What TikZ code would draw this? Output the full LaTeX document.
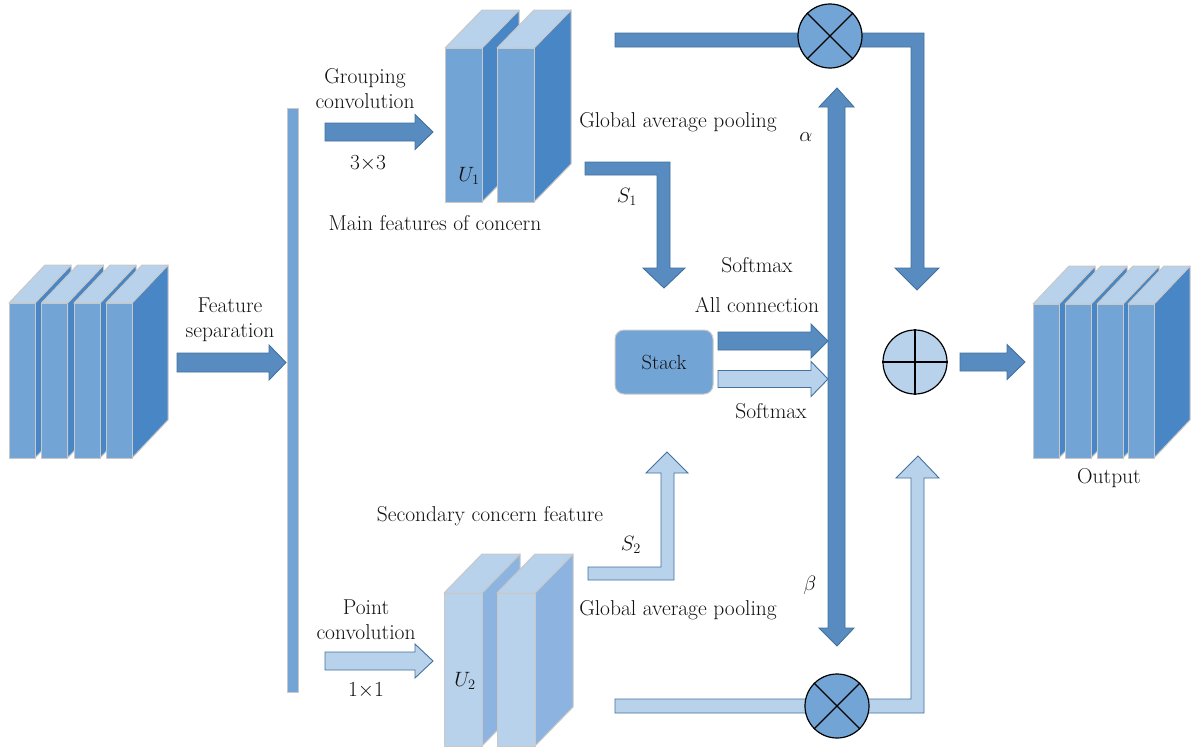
\documentclass[tikz,border=0pt]{standalone}
\usepackage{amsmath}
\usepackage{fontspec}
\setmainfont{Latin Modern Roman}
\definecolor{facemid}{HTML}{72A5D6}
\definecolor{facelight}{HTML}{B8D2EC}
\definecolor{facedark}{HTML}{4886C5}
\definecolor{facesoft}{HTML}{8DB4E0}
\definecolor{edgegray}{HTML}{C8C8C8}
\definecolor{arrdark}{HTML}{588CC0}
\definecolor{arrlight}{HTML}{B8D2EC}
\definecolor{arrline}{HTML}{41719C}
\definecolor{txt}{HTML}{111111}

\tikzset{
  darkarrow/.style={fill=arrdark, draw=arrline, line width=0.9pt, line join=miter},
  lightarrow/.style={fill=arrlight, draw=arrline, line width=0.9pt, line join=miter},
  face/.style={draw=edgegray, line width=1pt, line join=round},
  lbl/.style={text=txt, inner sep=0pt, font=\fontsize{21.5}{25}\selectfont, align=center},
  opnode/.style={circle, draw=black, line width=1.2pt, minimum size=64pt, inner sep=0pt},
}

% one slab: x, top y, width, height, depth dx, depth dy, front, top, side colours
\newcommand{\slabdraw}[9]{%
  \path[face, fill=#9] ({#1+#3},#2) -- ({#1+#3+#5},{#2-#6}) -- ({#1+#3+#5},{#2+#4-#6}) -- ({#1+#3},{#2+#4}) -- cycle;
  \path[face, fill=#8] (#1,#2) -- ({#1+#5},{#2-#6}) -- ({#1+#3+#5},{#2-#6}) -- ({#1+#3},#2) -- cycle;
  \path[face, fill=#7] (#1,#2) rectangle ({#1+#3},{#2+#4});
}
% straight block arrow pointing right: style, x start, x head, x tip, y centre, half shaft, half head
\newcommand{\rightblock}[7]{%
  \path[#1] (#2,{#5-#6}) -- (#3,{#5-#6}) -- (#3,{#5-#7}) -- (#4,#5) -- (#3,{#5+#7}) -- (#3,{#5+#6}) -- (#2,{#5+#6}) -- cycle;
}

\begin{document}
\begin{tikzpicture}[x=1pt, y=-1pt]
\useasboundingbox (0,0) rectangle (1195,750);

% input feature stack
\foreach \xx in {9,41.5,74,106}{\slabdraw{\xx}{303}{26}{155}{36}{38}{facemid}{facelight}{facedark}}
% output feature stack
\foreach \xx in {1033,1065,1097,1128}{\slabdraw{\xx}{304}{26}{154}{36}{38}{facemid}{facelight}{facedark}}
% U1 block
\foreach \xx in {445,497}{\slabdraw{\xx}{48}{37}{154}{37}{38}{facemid}{facelight}{facedark}}
% U2 block
\foreach \xx in {444,497}{\slabdraw{\xx}{593}{38}{153}{38}{39}{facelight}{facelight}{facesoft}}

% separation bar
\path[face, fill=facemid] (287,108) rectangle (298,692);

% straight arrows
\rightblock{darkarrow}{177}{269}{286}{362.5}{9.5}{17.5}
\rightblock{darkarrow}{325}{415}{433}{132}{9}{17.5}
\rightblock{lightarrow}{325}{415}{433}{661}{9}{17}
\rightblock{darkarrow}{718}{811}{828}{341}{9}{17}
\rightblock{lightarrow}{718}{811}{828}{379}{8.5}{17.5}
\rightblock{darkarrow}{960}{1007}{1025}{362}{9}{17.5}

% bent arrows
\path[darkarrow] (615,33) -- (924,33) -- (924,268) -- (939,268) -- (917,290) -- (895,268) -- (911,268) -- (911,47) -- (615,47) -- cycle;
\path[darkarrow] (585,162) -- (670,162) -- (670,268) -- (685,268) -- (664,288) -- (643,268) -- (657,268) -- (657,175) -- (585,175) -- cycle;
\path[lightarrow] (588,567) -- (661,567) -- (661,473) -- (646,473) -- (667,452) -- (688,473) -- (674,473) -- (674,580) -- (588,580) -- cycle;
\path[lightarrow] (615,699) -- (911,699) -- (911,478) -- (896,478) -- (918,456) -- (939,478) -- (924,478) -- (924,713) -- (615,713) -- cycle;

% alpha / beta double arrow
\path[darkarrow] (828,107) -- (819,107) -- (837,88) -- (854,107) -- (845,107) -- (845,628) -- (854,628) -- (837,646) -- (819,628) -- (828,628) -- cycle;

% stack box
\node[draw=edgegray, line width=1pt, fill=facemid, rounded corners=9pt, minimum width=98pt, minimum height=64pt, inner sep=0pt, text=txt, font=\fontsize{20.5}{22}\selectfont] (stack) at (664,362) {Stack};

% operators
\node[opnode, fill=facemid] (mulA) at (830,36) {};
\draw[line width=1.2pt] (mulA.north west) -- (mulA.south east) (mulA.north east) -- (mulA.south west);
\node[opnode, fill=facemid] (mulB) at (837,706) {};
\draw[line width=1.2pt] (mulB.north west) -- (mulB.south east) (mulB.north east) -- (mulB.south west);
\node[opnode, fill=facelight] (add) at (915,362) {};
\draw[line width=1.2pt] (add.north) -- (add.south) (add.west) -- (add.east);

% labels
\node[lbl] (tsep) at (230,320) {Feature\\separation};
\node[lbl] (tgroup) at (365,89) {Grouping\\convolution};
\node[lbl] (tk3) at (368,163) {3$\times$3};
\node[lbl] (tmain) at (435,223) {Main features of concern};
\node[lbl] (tu1) at (469,176) {$U_{1}$};
\node[lbl] (tgap1) at (678,122) {Global average pooling};
\node[lbl] (talpha) at (806,137) {$\alpha$};
\node[lbl] (ts1) at (627,197) {$S_{1}$};
\node[lbl] (tsoft1) at (757,265) {Softmax};
\node[lbl] (tall) at (757,305) {All connection};
\node[lbl] (tsoft2) at (771,411) {Softmax};
\node[lbl] (tout) at (1109,478) {Output};
\node[lbl] (tsec) at (490,516) {Secondary concern feature};
\node[lbl] (ts2) at (631,545) {$S_{2}$};
\node[lbl] (tbeta) at (810,585) {$\beta$};
\node[lbl] (tpoint) at (366,620) {Point\\convolution};
\node[lbl] (tk1) at (366,690) {1$\times$1};
\node[lbl] (tu2) at (465,681) {$U_{2}$};
\node[lbl] (tgap2) at (678,610) {Global average pooling};
\end{tikzpicture}
\end{document}
